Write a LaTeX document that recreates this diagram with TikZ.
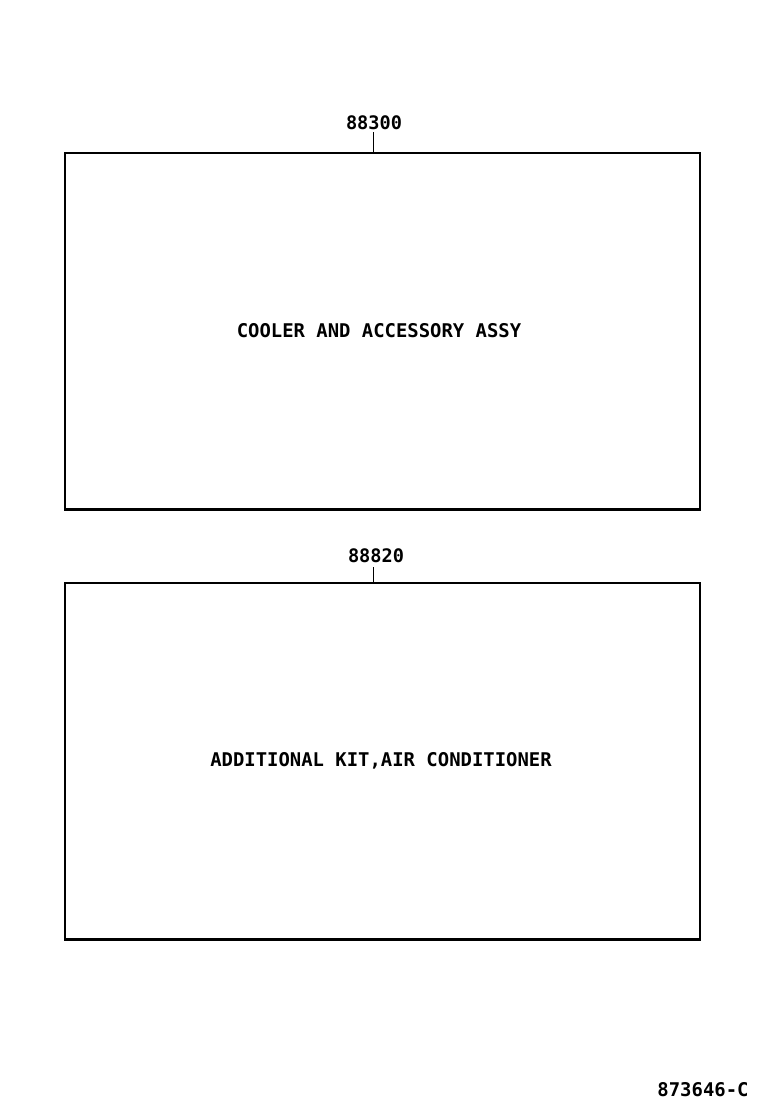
\documentclass[tikz,border=0pt]{standalone}
\usepackage{fontspec}
\newfontfamily\partfont{DejaVu Sans Mono Bold}
\begin{document}
\begin{tikzpicture}[x=1pt,y=-1pt,
    box/.style={draw,line width=1.6pt,minimum width=635pt,minimum height=356pt,inner sep=0pt,
      font=\partfont\fontsize{18.9}{21}\selectfont},
    partno/.style={font=\partfont\fontsize{18.6}{20}\selectfont,inner sep=0pt}]
  \useasboundingbox (0,0) rectangle (760,1112);
  \draw
    (382.5,331) node[box] (1){COOLER AND ACCESSORY ASSY\kern7pt\relax}
    (382.5,761) node[box] (2){ADDITIONAL KIT,AIR CONDITIONER\kern3pt\relax}
    (374,123) node[partno] (n1){88300}
    (376,556) node[partno] (n2){88820}
    (703,1090) node[partno,font=\partfont\fontsize{18.9}{21}\selectfont] (code){873646-C};
  \coordinate (t1) at (373.5,132);
  \coordinate (t2) at (373.5,567);
  \begin{scope}[line width=1.8pt]
    \draw (t1) to (t1 |- 1.north);
    \draw (t2) to (t2 |- 2.north);
    \draw (1.south west) to (1.south east);
    \draw (2.south west) to (2.south east);
  \end{scope}
\end{tikzpicture}
\end{document}
